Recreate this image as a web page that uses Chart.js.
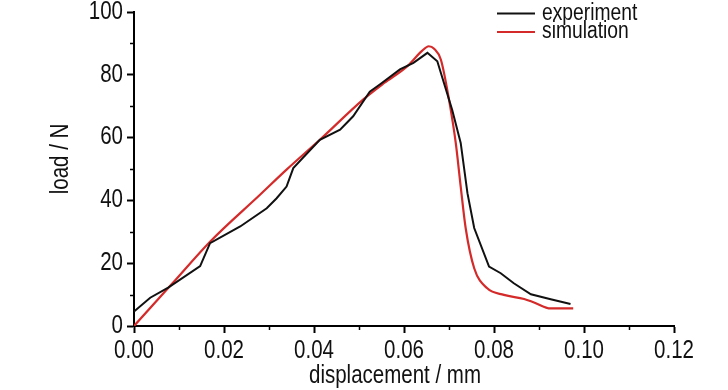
<!DOCTYPE html>
<html>
<head>
<meta charset="utf-8">
<script src="https://cdn.jsdelivr.net/npm/chart.js@4.4.1/dist/chart.umd.min.js"></script>
<style>
  html, body { margin: 0; padding: 0; background: #fff; }
  #wrap { width: 728px; height: 390px; position: relative; }
</style>
</head>
<body>
<div id="wrap"><canvas id="c" width="728" height="390"></canvas></div>
<script>
// ---- data ----
const expX = [0, 0.0036, 0.0076, 0.0147, 0.0169, 0.0236, 0.0295, 0.0317, 0.0339, 0.0354, 0.0413, 0.0458, 0.0487, 0.0524, 0.0547, 0.0591, 0.0621, 0.0652, 0.0674, 0.0707, 0.0726, 0.0741, 0.0756, 0.0789, 0.0815, 0.0844, 0.0882, 0.0926, 0.0970];
const expY = [4.6, 9.0, 12.2, 19.1, 26.4, 31.7, 37.5, 40.7, 44.4, 50.3, 59.3, 62.5, 66.8, 74.6, 77.0, 81.7, 83.8, 87.0, 84.3, 68.9, 58.3, 42.3, 31.2, 18.9, 16.8, 13.6, 10.1, 8.5, 7.0];
const simX = [0, 0.0085, 0.017, 0.028, 0.0339, 0.0413, 0.0509, 0.0556, 0.0607, 0.0640, 0.0655, 0.0667, 0.0682, 0.0700, 0.0715, 0.0726, 0.0737, 0.0756, 0.0785, 0.0822, 0.0867, 0.0889, 0.0926, 0.0976];
const simY = [0, 13.5, 27.0, 41.8, 49.8, 59.3, 72.1, 77.4, 82.7, 87.6, 89.1, 88.3, 84.8, 72.1, 58.3, 44.4, 31.2, 18.4, 12.0, 9.9, 8.6, 7.5, 5.6, 5.6];
const seriesNames = ['experiment', 'simulation'];
const xTickValues = [0, 0.02, 0.04, 0.06, 0.08, 0.10, 0.12];
const xMinorValues = [0.01, 0.03, 0.05, 0.07, 0.09, 0.11];
const yTickValues = [0, 20, 40, 60, 80, 100];
const yMinorValues = [10, 30, 50, 70, 90];
const xTitle = 'displacement / mm';
const yTitle = 'load / N';

const FONT = "'Liberation Sans', Arial, sans-serif";
const colors = ['#111111', '#d42a2a'];

// emulate a narrow (condensed) face: compress glyphs horizontally around their anchor
const NARROW = 0.82;
const origFill = CanvasRenderingContext2D.prototype.fillText;
CanvasRenderingContext2D.prototype.fillText = function (t, x, y) {
  this.save();
  this.translate(x, y);
  this.scale(NARROW, 1);
  origFill.call(this, t, 0, 0);
  this.restore();
};

const extras = {
  id: 'extras',
  afterDraw(chart) {
    const ctx = chart.ctx;
    const xs = chart.scales.x, ys = chart.scales.y;
    const area = chart.chartArea;
    ctx.save();
    // minor ticks
    ctx.strokeStyle = '#000';
    ctx.lineWidth = 1.5;
    ctx.beginPath();
    yMinorValues.forEach(v => {
      const p = Math.round(ys.getPixelForValue(v)) + 0.5;
      ctx.moveTo(area.left - 4, p); ctx.lineTo(area.left, p);
    });
    xMinorValues.forEach(v => {
      const p = Math.round(xs.getPixelForValue(v)) + 0.5;
      ctx.moveTo(p, area.bottom); ctx.lineTo(p, area.bottom + 4);
    });
    ctx.stroke();
    // axis titles
    ctx.fillStyle = '#111';
    ctx.font = '25px ' + FONT;
    ctx.textAlign = 'center';
    ctx.textBaseline = 'alphabetic';
    ctx.fillText(xTitle, 395, 383);
    ctx.save();
    ctx.translate(68, 159);
    ctx.rotate(-Math.PI / 2);
    ctx.fillText(yTitle, 0, 0);
    ctx.restore();
    // legend
    ctx.font = '23.5px ' + FONT;
    ctx.textAlign = 'left';
    ctx.textBaseline = 'middle';
    chart.data.datasets.forEach((ds, i) => {
      const y = 13.5 + i * 18.5;
      ctx.strokeStyle = ds.borderColor;
      ctx.lineWidth = 2;
      ctx.beginPath();
      ctx.moveTo(497, y); ctx.lineTo(535, y);
      ctx.stroke();
      ctx.fillStyle = '#111';
      ctx.fillText(ds.label, 542, y);
    });
    ctx.restore();
  }
};

const toPts = (xa, ya) => xa.map((x, i) => ({ x: x, y: ya[i] }));

new Chart(document.getElementById('c'), {
  type: 'line',
  data: {
    datasets: [
      { label: seriesNames[0], data: toPts(expX, expY), borderColor: colors[0], borderWidth: 2, pointRadius: 0, tension: 0 },
      { label: seriesNames[1], data: toPts(simX, simY), borderColor: colors[1], borderWidth: 2.2, pointRadius: 0, cubicInterpolationMode: 'monotone' }
    ]
  },
  options: {
    responsive: false,
    animation: false,
    devicePixelRatio: 1,
    layout: { padding: { top: 12, right: 54, left: 0, bottom: 0 } },
    plugins: { legend: { display: false }, tooltip: { enabled: false } },
    scales: {
      x: {
        type: 'linear', min: 0, max: 0.12, position: 'bottom',
        border: { color: '#000', width: 2 },
        grid: { drawOnChartArea: false, tickLength: 7, tickColor: '#000', tickWidth: 2 },
        ticks: { color: '#111', font: { family: FONT, size: 25 }, padding: 3, maxRotation: 0, autoSkip: false,
                 callback: v => Number(v).toFixed(2) },
        afterBuildTicks: s => { s.ticks = xTickValues.map(v => ({ value: v })); },
        afterFit: s => { s.height = 64; s.paddingLeft = 0; s.paddingRight = 0; }
      },
      y: {
        type: 'linear', min: 0, max: 100,
        border: { color: '#000', width: 2 },
        grid: { drawOnChartArea: false, tickLength: 7, tickColor: '#000', tickWidth: 2 },
        ticks: { color: '#111', font: { family: FONT, size: 25 }, padding: 4, autoSkip: false },
        afterBuildTicks: s => { s.ticks = yTickValues.map(v => ({ value: v })); },
        afterFit: s => { s.width = 134; s.paddingTop = 0; s.paddingBottom = 0; }
      }
    }
  },
  plugins: [extras]
});
</script>
</body>
</html>
